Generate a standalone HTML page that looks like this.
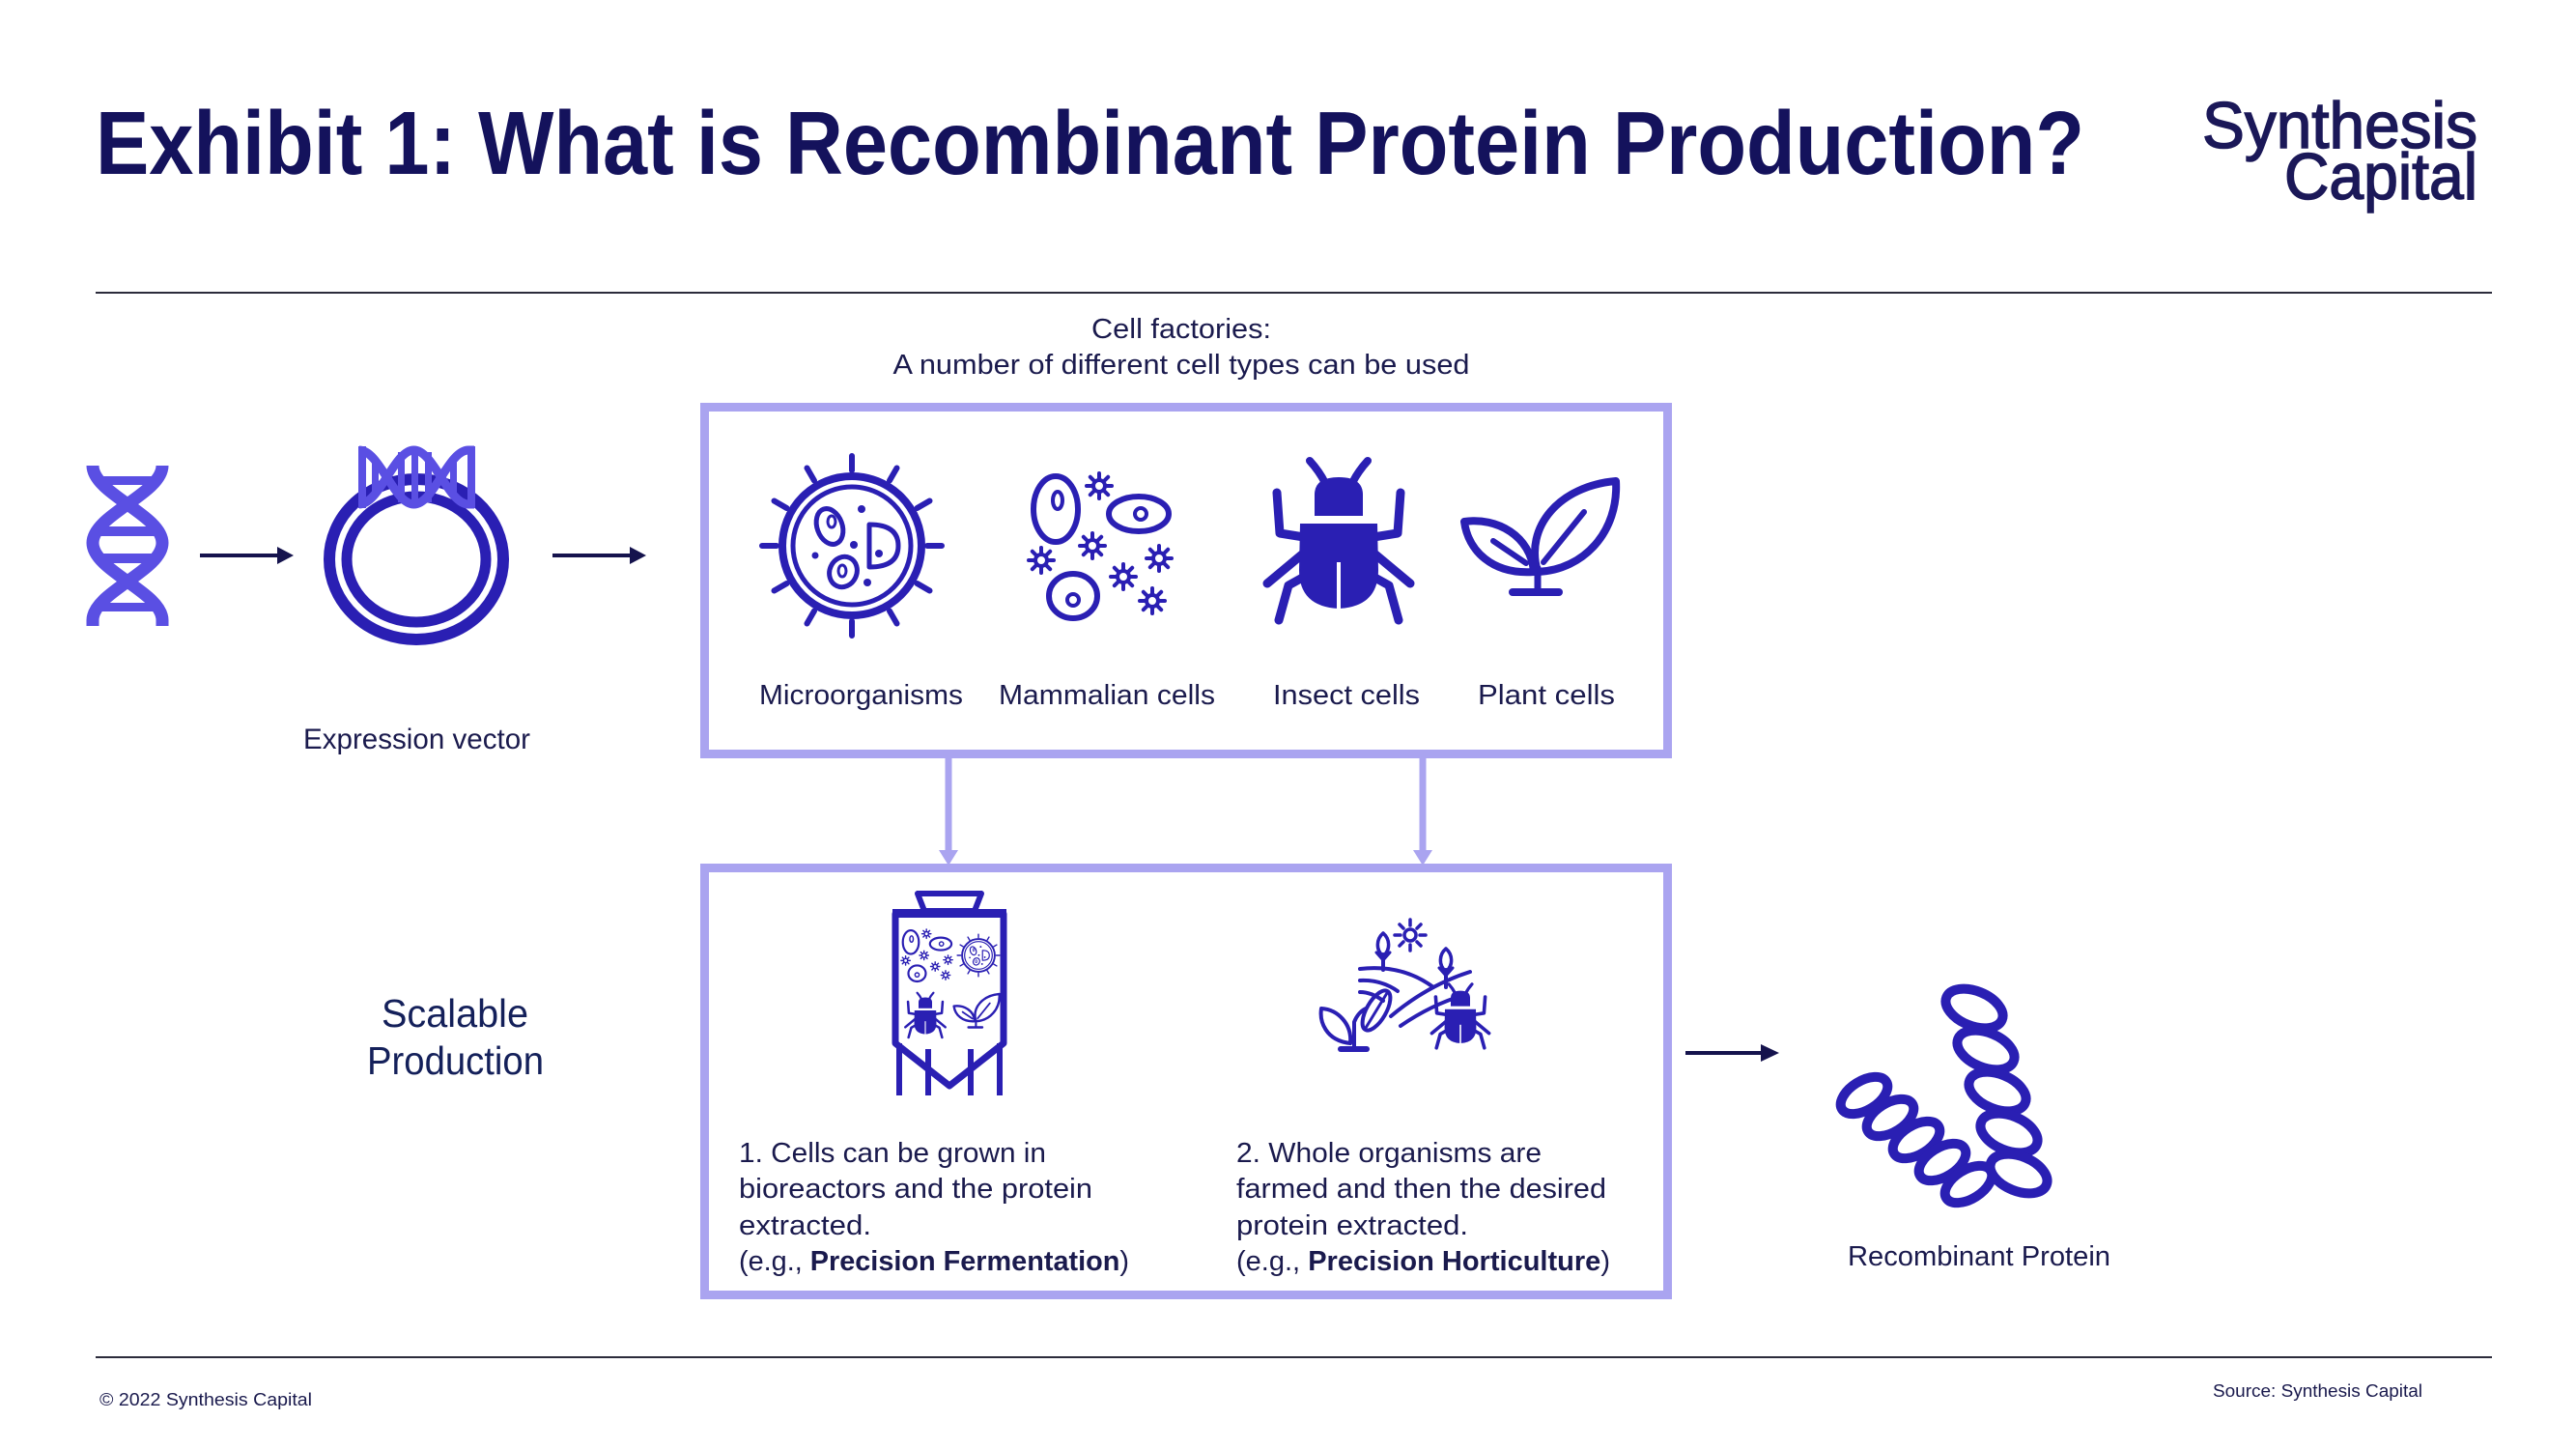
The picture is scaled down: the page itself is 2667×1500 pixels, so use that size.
<!DOCTYPE html>
<html><head><meta charset="utf-8">
<style>
html,body{margin:0;padding:0;background:#fff;}
svg{display:block;}
text{font-family:"Liberation Sans",Arial,sans-serif;}
</style></head><body>
<svg width="2667" height="1500" viewBox="0 0 2667 1500" xmlns="http://www.w3.org/2000/svg" xmlns:xlink="http://www.w3.org/1999/xlink">
<defs>
  <g id="gear" fill="none" stroke="#2a1fb3" stroke-width="4" stroke-linecap="round">
    <circle r="6"/>
    <path d="M0,-8V-13 M0,8V13 M-8,0H-13 M8,0H13 M5.7,5.7L9.2,9.2 M-5.7,-5.7L-9.2,-9.2 M5.7,-5.7L9.2,-9.2 M-5.7,5.7L-9.2,9.2"/>
  </g>
  <g id="micro" fill="none" stroke="#2a1fb3" stroke-linecap="round">
    <path stroke-width="6" d="M0,-78L0,-93 M39,-67.5L46.5,-80.5 M67.5,-39L80.5,-46.5 M78,0L93,0 M67.5,39L80.5,46.5 M39,67.5L46.5,80.5 M0,78L0,93 M-39,67.5L-46.5,80.5 M-67.5,39L-80.5,46.5 M-78,0L-93,0 M-67.5,-39L-80.5,-46.5 M-39,-67.5L-46.5,-80.5"/>
    <circle r="72" stroke-width="8"/>
    <circle r="61" stroke-width="5"/>
    <ellipse cx="-23" cy="-20" rx="13" ry="19" transform="rotate(-20 -23 -20)" stroke-width="5"/>
    <ellipse cx="-21" cy="-25" rx="4" ry="6" stroke-width="3"/>
    <path d="M18,-22 Q48,-22 48,0 Q48,22 18,22 Z" stroke-width="5" stroke-linejoin="round"/>
    <ellipse cx="-9" cy="27" rx="14" ry="16" transform="rotate(25 -9 27)" stroke-width="5"/>
    <ellipse cx="-10" cy="26" rx="4" ry="6" stroke-width="3"/>
    <g fill="#2a1fb3" stroke="none">
      <circle cx="28" cy="8" r="4"/>
      <circle cx="10" cy="-38" r="4"/>
      <circle cx="2" cy="-1" r="4"/>
      <circle cx="-38" cy="10" r="3.5"/>
      <circle cx="16" cy="38" r="4"/>
    </g>
  </g>
  <g id="mammal" fill="none" stroke="#2a1fb3">
    <ellipse cx="-50" cy="-38" rx="23" ry="34" stroke-width="6"/>
    <ellipse cx="-48" cy="-47" rx="5" ry="9" stroke-width="4"/>
    <ellipse cx="36" cy="-33" rx="31" ry="18" stroke-width="6"/>
    <circle cx="38" cy="-33" r="6" stroke-width="4"/>
    <ellipse cx="-32" cy="52" rx="25" ry="23" stroke-width="6"/>
    <circle cx="-32" cy="56" r="6" stroke-width="4"/>
    <use xlink:href="#gear" href="#gear" x="-5" y="-62"/>
    <use xlink:href="#gear" href="#gear" x="-65" y="15"/>
    <use xlink:href="#gear" href="#gear" x="-12" y="0"/>
    <use xlink:href="#gear" href="#gear" x="57" y="13"/>
    <use xlink:href="#gear" href="#gear" x="20" y="32"/>
    <use xlink:href="#gear" href="#gear" x="50" y="57"/>
  </g>
  <g id="beetle">
    <g fill="none" stroke="#2a1fb3" stroke-width="9" stroke-linecap="round" stroke-linejoin="round">
      <path stroke-width="8" d="M-14,-60 Q-20,-72 -30,-83 M14,-60 Q20,-72 30,-83"/>
      <path d="M-36,-4 L-61,-8 L-64,-50 M36,-4 L61,-8 L64,-50"/>
      <path d="M-38,14 L-74,44 M38,14 L74,44"/>
      <path d="M-34,36 L-52,46 L-62,82 M34,36 L52,46 L62,82"/>
    </g>
    <path fill="#2a1fb3" d="M-25,-26 L-25,-48 Q-25,-66 0,-66 Q25,-66 25,-48 L25,-26 Z"/>
    <path fill="#2a1fb3" d="M-40,-18 L40,-18 L41,30 Q41,68 0,70 Q-41,68 -41,30 Z"/>
    <path d="M0,22 L0,72" stroke="#fff" stroke-width="4"/>
  </g>
  <g id="plant" fill="none" stroke="#2a1fb3" stroke-linecap="round" stroke-linejoin="round">
    <path d="M-28,55 L20,55" stroke-width="8"/>
    <path d="M-2,55 L-2,30" stroke-width="7"/>
    <path d="M-2,34 C-16,-13 21,-55 79,-60 C82,-8 46,32 -2,34 Z" stroke-width="8"/>
    <path d="M4,24 L46,-28" stroke-width="6"/>
    <path d="M-6,34 C-49,37 -74,12 -78,-18 C-44,-23 -9,-3 -6,34 Z" stroke-width="8"/>
    <path d="M-14,25 L-48,2" stroke-width="6"/>
  </g>
</defs>

<rect width="2667" height="1500" fill="#fff"/>

<!-- Title -->
<text x="99" y="180" font-size="93" font-weight="bold" fill="#14125c" textLength="2059" lengthAdjust="spacingAndGlyphs">Exhibit 1: What is Recombinant Protein Production?</text>

<!-- Logo -->
<text x="2280" y="153" font-size="68" fill="#1b1858" stroke="#1b1858" stroke-width="1.5" textLength="285" lengthAdjust="spacingAndGlyphs">Synthesis</text>
<text x="2365" y="206" font-size="68" fill="#1b1858" stroke="#1b1858" stroke-width="1.5" textLength="200" lengthAdjust="spacingAndGlyphs">Capital</text>

<!-- Rules -->
<rect x="99" y="302" width="2481" height="2" fill="#2b2b3b"/>
<rect x="99" y="1404" width="2481" height="2" fill="#2b2b3b"/>

<!-- Footer -->
<text x="103" y="1455" font-size="18" fill="#1a1a4d" textLength="220" lengthAdjust="spacingAndGlyphs">© 2022 Synthesis Capital</text>
<text x="2291" y="1446" font-size="18" fill="#1a1a4d" textLength="217" lengthAdjust="spacingAndGlyphs">Source: Synthesis Capital</text>

<!-- Left DNA -->
<g fill="none" stroke="#5a4fe3" stroke-width="13" stroke-linejoin="round">
  <path d="M96,482 C96,511 168,533 168,562 C168,591 96,613 96,642 L96,648"/>
  <path d="M168,482 C168,511 96,533 96,562 C96,591 168,613 168,642 L168,648"/>
</g>
<g fill="#5a4fe3">
  <rect x="101" y="493" width="62" height="9"/>
  <rect x="103" y="545" width="58" height="10"/>
  <rect x="103" y="573" width="58" height="10"/>
  <rect x="101" y="624" width="62" height="9"/>
</g>

<!-- Arrow 1 -->
<line x1="207" y1="575" x2="292" y2="575" stroke="#15134d" stroke-width="4"/>
<polygon points="287,566 304,575 287,584" fill="#15134d"/>

<!-- Plasmid -->
<ellipse cx="431" cy="579" rx="90" ry="83" fill="none" stroke="#2a1fb3" stroke-width="12"/>
<ellipse cx="431" cy="579" rx="72" ry="65" fill="none" stroke="#2a1fb3" stroke-width="11"/>
<g fill="none" stroke="#5a4fe3" stroke-width="9">
  <path d="M372,466 C393,466 408,522 428.5,522 C449,522 464,466 485,466 L491,466"/>
  <path d="M372,522 C393,522 408,466 428.5,466 C449,466 464,522 485,522 L491,522"/>
</g>
<g fill="#5a4fe3">
  <rect x="371" y="462" width="8" height="64"/>
  <rect x="484" y="462" width="8" height="64"/>
  <rect x="385" y="474" width="7" height="40"/>
  <rect x="412" y="468" width="7" height="52"/>
  <rect x="426" y="466" width="7" height="56"/>
  <rect x="440" y="468" width="7" height="52"/>
  <rect x="466" y="474" width="7" height="40"/>
</g>

<!-- Arrow 2 -->
<line x1="572" y1="575" x2="657" y2="575" stroke="#15134d" stroke-width="4"/>
<polygon points="652,566 669,575 652,584" fill="#15134d"/>

<text x="314" y="775" font-size="30" fill="#1a1a4d" textLength="235" lengthAdjust="spacingAndGlyphs">Expression vector</text>

<!-- Cell factories header -->
<text x="1223" y="350" font-size="29" fill="#1a1a4d" text-anchor="middle" textLength="186" lengthAdjust="spacingAndGlyphs">Cell factories:</text>
<text x="1223" y="387" font-size="29" fill="#1a1a4d" text-anchor="middle" textLength="597" lengthAdjust="spacingAndGlyphs">A number of different cell types can be used</text>

<!-- Top box -->
<rect x="729.5" y="421.5" width="997" height="359" fill="none" stroke="#aaa4f0" stroke-width="9"/>

<use xlink:href="#micro" href="#micro" transform="translate(882,565)"/>
<use xlink:href="#mammal" href="#mammal" transform="translate(1143,565)"/>
<use xlink:href="#beetle" href="#beetle" transform="translate(1386,560)"/>
<use xlink:href="#plant" href="#plant" transform="translate(1594,558)"/>

<text x="786" y="729" font-size="29" fill="#1a1a4d" textLength="211" lengthAdjust="spacingAndGlyphs">Microorganisms</text>
<text x="1034" y="729" font-size="29" fill="#1a1a4d" textLength="224" lengthAdjust="spacingAndGlyphs">Mammalian cells</text>
<text x="1318" y="729" font-size="29" fill="#1a1a4d" textLength="152" lengthAdjust="spacingAndGlyphs">Insect cells</text>
<text x="1530" y="729" font-size="29" fill="#1a1a4d" textLength="142" lengthAdjust="spacingAndGlyphs">Plant cells</text>

<!-- Connectors -->
<line x1="982" y1="785" x2="982" y2="884" stroke="#aaa4f0" stroke-width="7"/>
<polygon points="972,880 992,880 982,896" fill="#aaa4f0"/>
<line x1="1473" y1="785" x2="1473" y2="884" stroke="#aaa4f0" stroke-width="7"/>
<polygon points="1463,880 1483,880 1473,896" fill="#aaa4f0"/>

<!-- Scalable Production -->
<text x="395" y="1063" font-size="41" fill="#14205a" textLength="152" lengthAdjust="spacingAndGlyphs">Scalable</text>
<text x="380" y="1112" font-size="41" fill="#14205a" textLength="183" lengthAdjust="spacingAndGlyphs">Production</text>

<!-- Bottom box -->
<rect x="729.5" y="898.5" width="997" height="442" fill="none" stroke="#aaa4f0" stroke-width="9"/>

<!-- Bioreactor -->
<g fill="none" stroke="#2a1fb3" stroke-width="6" stroke-linejoin="round">
  <polygon points="950,925 1016,925 1009,943 957,943"/>
  <path d="M927,946 L1039,946 L1039,1080 L983,1124 L927,1080 Z" stroke-width="7"/>
  <path d="M931,1080 L931,1134 M961,1086 L961,1134 M1005,1086 L1005,1134 M1035,1080 L1035,1134" stroke-width="6"/>
</g>
<rect x="924" y="941" width="118" height="9" fill="#2a1fb3"/>
<rect x="949" y="922" width="68" height="6" fill="#2a1fb3"/>
<use xlink:href="#mammal" href="#mammal" transform="translate(961,989) scale(0.36)"/>
<use xlink:href="#micro" href="#micro" transform="translate(1013,989) scale(0.235)"/>
<use xlink:href="#beetle" href="#beetle" transform="translate(958,1051) scale(0.28)"/>
<use xlink:href="#plant" href="#plant" transform="translate(1011,1047) scale(0.3)"/>

<!-- Horticulture icon -->
<g fill="none" stroke="#2a1fb3" stroke-width="4" stroke-linecap="round" stroke-linejoin="round">
  <circle cx="1460" cy="968" r="6" stroke-width="3.5"/>
  <path stroke-width="3.5" d="M1460,958V952 M1460,978V984 M1450,968H1444 M1470,968H1476 M1467,961L1471,957 M1453,975L1449,979 M1453,961L1449,957 M1467,975L1471,979"/>
  <path d="M1408,1003 Q1452,998 1484,1022"/>
  <path d="M1408,1015 Q1430,1014 1447,1026"/>
  <path d="M1408,1027 Q1420,1027 1432,1036"/>
  <path d="M1440,1052 Q1478,1020 1522,1006"/>
  <path d="M1450,1062 Q1482,1040 1516,1030"/>
  <path d="M1432,1004 L1432,988"/>
  <path d="M1432,990 C1424,983 1425,972 1432,966 C1439,972 1440,983 1432,990 Z" stroke-width="3.5"/>
  <path d="M1432,994 L1425,986 M1432,994 L1439,986" stroke-width="3"/>
  <path d="M1497,1022 L1497,1004"/>
  <path d="M1497,1006 C1489,999 1490,988 1497,982 C1504,988 1505,999 1497,1006 Z" stroke-width="3.5"/>
  <path d="M1497,1010 L1490,1002 M1497,1010 L1504,1002" stroke-width="3"/>
  <ellipse cx="1425" cy="1046" rx="10" ry="23" transform="rotate(30 1425 1046)"/>
  <path d="M1414,1064 L1436,1028" stroke-width="3"/>
  <path d="M1398,1080 C1372,1077 1366,1057 1368,1044 C1385,1045 1400,1060 1398,1080 Z"/>
  <path d="M1402,1086 L1402,1058 Q1406,1048 1414,1044"/>
  <path d="M1388,1086 L1415,1086" stroke-width="6"/>
</g>
<use xlink:href="#beetle" href="#beetle" transform="translate(1512,1052) scale(0.4)"/>

<!-- Bottom box text -->
<g font-size="29" fill="#1a1a4d">
  <text x="765" y="1203" textLength="318" lengthAdjust="spacingAndGlyphs">1. Cells can be grown in</text>
  <text x="765" y="1240" textLength="366" lengthAdjust="spacingAndGlyphs">bioreactors and the protein</text>
  <text x="765" y="1278" textLength="137" lengthAdjust="spacingAndGlyphs">extracted.</text>
  <text x="765" y="1315" textLength="404" lengthAdjust="spacingAndGlyphs">(e.g., <tspan font-weight="bold">Precision Fermentation</tspan>)</text>
  <text x="1280" y="1203" textLength="316" lengthAdjust="spacingAndGlyphs">2. Whole organisms are</text>
  <text x="1280" y="1240" textLength="383" lengthAdjust="spacingAndGlyphs">farmed and then the desired</text>
  <text x="1280" y="1278" textLength="240" lengthAdjust="spacingAndGlyphs">protein extracted.</text>
  <text x="1280" y="1315" textLength="387" lengthAdjust="spacingAndGlyphs">(e.g., <tspan font-weight="bold">Precision Horticulture</tspan>)</text>
</g>

<!-- Arrow 3 -->
<line x1="1745" y1="1090" x2="1828" y2="1090" stroke="#15134d" stroke-width="4"/>
<polygon points="1823,1081 1842,1090 1823,1099" fill="#15134d"/>

<!-- Protein -->
<g fill="none" stroke="#2a1fb3" stroke-width="10" stroke-linejoin="round">
  <ellipse cx="2044" cy="1044" rx="31" ry="18" transform="rotate(22 2044 1044)"/>
  <ellipse cx="2056" cy="1087" rx="31" ry="18" transform="rotate(22 2056 1087)"/>
  <ellipse cx="2068" cy="1130" rx="31" ry="18" transform="rotate(22 2068 1130)"/>
  <ellipse cx="2080" cy="1173" rx="31" ry="18" transform="rotate(22 2080 1173)"/>
  <ellipse cx="2090" cy="1215" rx="31" ry="18" transform="rotate(22 2090 1215)"/>
  <ellipse cx="1930" cy="1134" rx="27" ry="15" transform="rotate(-32 1930 1134)"/>
  <ellipse cx="1957" cy="1157" rx="27" ry="15" transform="rotate(-32 1957 1157)"/>
  <ellipse cx="1984" cy="1180" rx="27" ry="15" transform="rotate(-32 1984 1180)"/>
  <ellipse cx="2011" cy="1203" rx="27" ry="15" transform="rotate(-32 2011 1203)"/>
  <ellipse cx="2038" cy="1226" rx="27" ry="15" transform="rotate(-32 2038 1226)"/>
</g>
<text x="1913" y="1310" font-size="29" fill="#1a1a4d" textLength="272" lengthAdjust="spacingAndGlyphs">Recombinant Protein</text>

</svg>
</body></html>
